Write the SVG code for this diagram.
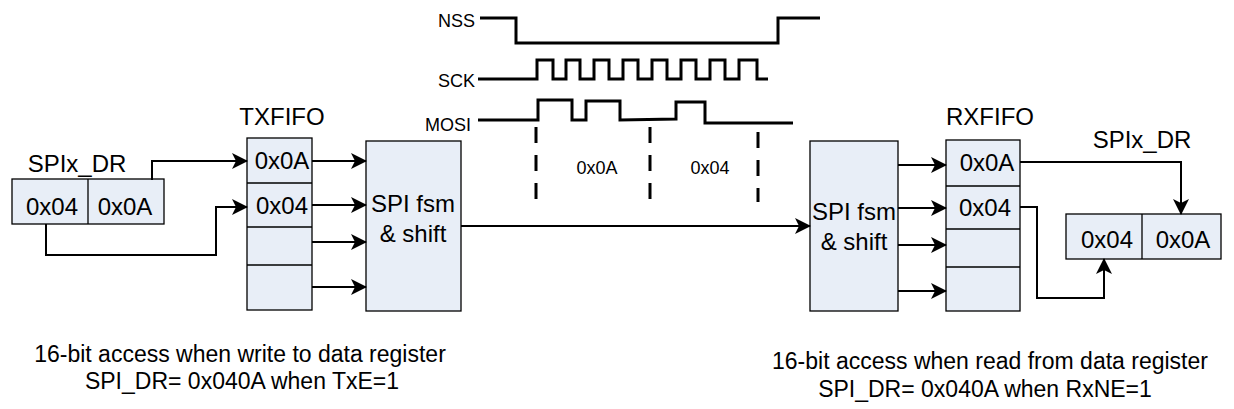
<svg xmlns="http://www.w3.org/2000/svg" width="1234" height="409" viewBox="0 0 1234 409">
<style>
.b{fill:#e8eef7;stroke:#000;stroke-width:1.3}
.t{font-family:"Liberation Sans",Arial,sans-serif;font-size:24px;fill:#000}
.s{font-family:"Liberation Sans",Arial,sans-serif;font-size:18px;fill:#000}
.n{font-family:"Liberation Sans",Arial,sans-serif;font-size:23px;fill:#000}
.w{fill:none;stroke:#000;stroke-width:3}
.c2{fill:none;stroke:#000;stroke-width:2;marker-end:url(#a2)}
</style>
<defs>
<marker id="a2" markerWidth="16" markerHeight="16" refX="15" refY="8" orient="auto" markerUnits="userSpaceOnUse" viewBox="0 0 16 16"><path d="M0,0 L16,8 L0,16 L4,8 Z" fill="#000"/></marker>
</defs>
<rect width="1234" height="409" fill="#fff"/>
<g id="timing">
<text class="s" x="475" y="27" text-anchor="end">NSS</text>
<polyline class="w" points="480,18 516,18 516,43 778,43 778,18 820,18" stroke-width="2"/>
<text class="s" x="475" y="87" text-anchor="end">SCK</text>
<polyline class="w" points="478,79 537,79 537,60 553,60 553,79 566,79 566,60 580,60 580,79 594,79 594,60 609,60 609,79 623,79 623,60 638,60 638,79 652,79 652,60 667,60 667,79 681,79 681,60 696,60 696,79 710,79 710,60 725,60 725,79 739,79 739,60 757,60 757,79 768,79"/>
<text class="s" x="471" y="131" text-anchor="end">MOSI</text>
<polyline class="w" points="478,120 538,120 538,100 572,100 572,120 586,120 586,101 620,101 620,120 676,119 676,102 705,102 705,123 793,123"/>
<g stroke="#000" stroke-width="3" stroke-dasharray="16,12"><line x1="536" y1="127" x2="536" y2="200"/><line x1="650" y1="127" x2="650" y2="200"/><line x1="758" y1="132" x2="758" y2="202"/></g>
<text class="s" x="597" y="174" text-anchor="middle">0x0A</text>
<text class="s" x="710" y="174" text-anchor="middle">0x04</text>
</g>
<g id="tx-dr">
<text class="t" x="77" y="172" text-anchor="middle">SPIx_DR</text>
<rect class="b" x="12" y="179" width="152" height="45"/>
<line x1="88" y1="179" x2="88" y2="224" stroke="#000" stroke-width="1.3"/>
<text class="t" x="52" y="215" text-anchor="middle">0x04</text>
<text class="t" x="125" y="215" text-anchor="middle">0x0A</text>
</g>
<g id="txfifo">
<text class="t" x="282" y="125" text-anchor="middle">TXFIFO</text>
<rect class="b" x="247" y="138" width="65" height="172"/>
<line x1="247" y1="183" x2="312" y2="183" stroke="#000" stroke-width="1.3"/>
<line x1="247" y1="227" x2="312" y2="227" stroke="#000" stroke-width="1.3"/>
<line x1="247" y1="265" x2="312" y2="265" stroke="#000" stroke-width="1.3"/>
<text class="t" x="282" y="169" text-anchor="middle">0x0A</text>
<text class="t" x="282" y="214" text-anchor="middle">0x04</text>
</g>
<g id="tx-fsm">
<rect class="b" x="366" y="141" width="95" height="170"/>
<text class="t" x="413" y="212" text-anchor="middle">SPI fsm</text>
<text class="t" x="413" y="242" text-anchor="middle">&amp; shift</text>
</g>
<g id="rx-fsm">
<rect class="b" x="810" y="141" width="88" height="170"/>
<text class="t" x="854" y="220" text-anchor="middle">SPI fsm</text>
<text class="t" x="854" y="250" text-anchor="middle">&amp; shift</text>
</g>
<g id="rxfifo">
<text class="t" x="990" y="125" text-anchor="middle">RXFIFO</text>
<rect class="b" x="946" y="140" width="74" height="171"/>
<line x1="946" y1="186" x2="1020" y2="186" stroke="#000" stroke-width="1.3"/>
<line x1="946" y1="229" x2="1020" y2="229" stroke="#000" stroke-width="1.3"/>
<line x1="946" y1="267" x2="1020" y2="267" stroke="#000" stroke-width="1.3"/>
<text class="t" x="987" y="171" text-anchor="middle">0x0A</text>
<text class="t" x="985" y="216" text-anchor="middle">0x04</text>
</g>
<g id="rx-dr">
<text class="t" x="1142" y="148" text-anchor="middle">SPIx_DR</text>
<rect class="b" x="1066" y="214" width="155" height="45"/>
<line x1="1142" y1="214" x2="1142" y2="259" stroke="#000" stroke-width="1.3"/>
<text class="t" x="1107" y="248" text-anchor="middle">0x04</text>
<text class="t" x="1183" y="248" text-anchor="middle">0x0A</text>
</g>
<g id="connectors">
<polyline class="c2" points="152,180 152,161 247,161" stroke-width="3"/>
<polyline class="c2" points="46,224 46,255 216,255 216,207 247,207"/>
<line class="c2" x1="312" y1="161" x2="366" y2="161" stroke-width="3"/>
<line class="c2" x1="312" y1="205" x2="366" y2="205" stroke-width="3"/>
<line class="c2" x1="312" y1="242" x2="366" y2="242" stroke-width="3"/>
<line class="c2" x1="312" y1="287" x2="366" y2="287" stroke-width="3"/>
<line class="c2" x1="461" y1="226" x2="810" y2="226" stroke-width="3"/>
<line class="c2" x1="898" y1="165" x2="946" y2="165" stroke-width="3"/>
<line class="c2" x1="898" y1="208" x2="946" y2="208" stroke-width="3"/>
<line class="c2" x1="898" y1="245" x2="946" y2="245" stroke-width="3"/>
<line class="c2" x1="898" y1="291" x2="946" y2="291" stroke-width="3"/>
<polyline class="c2" points="1020,162 1181,162 1181,214"/>
<polyline class="c2" points="1020,207 1037,207 1037,298 1104,298 1104,259"/>
</g>
<g id="notes">
<text class="n" x="240" y="362" text-anchor="middle">16-bit access when write to data register</text>
<text class="n" x="242" y="389" text-anchor="middle">SPI_DR= 0x040A when TxE=1</text>
<text class="n" x="990" y="369" text-anchor="middle">16-bit access when read from data register</text>
<text class="n" x="985" y="397" text-anchor="middle">SPI_DR= 0x040A when RxNE=1</text>
</g>
</svg>
